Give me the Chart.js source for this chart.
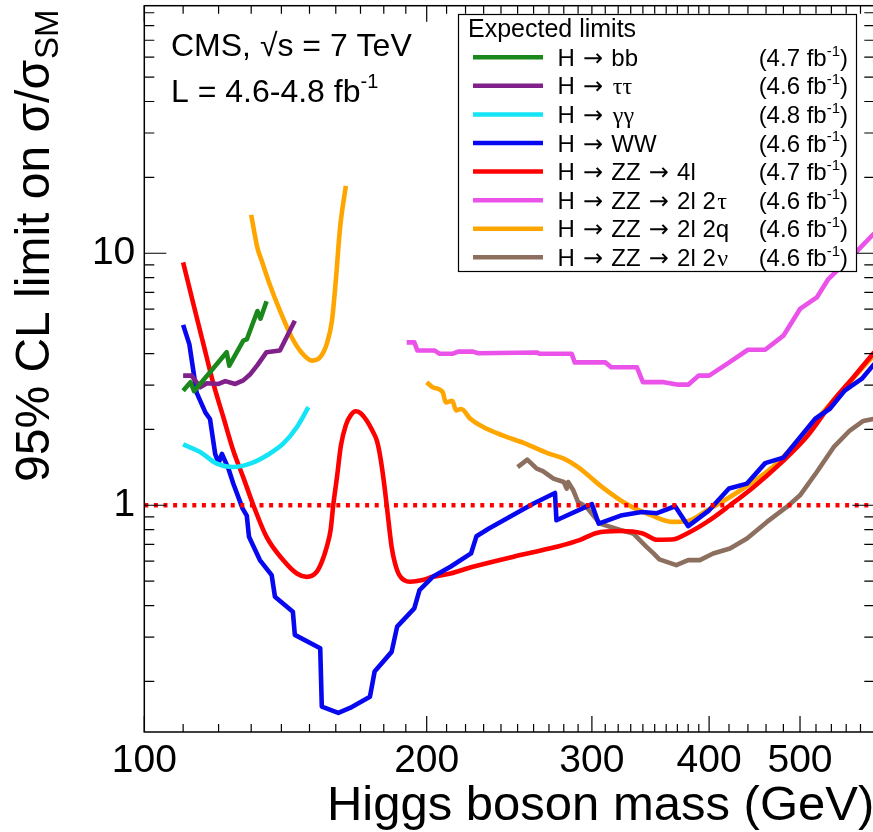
<!DOCTYPE html>
<html><head><meta charset="utf-8">
<script src="https://cdn.jsdelivr.net/npm/chart.js@4.4.1/dist/chart.umd.min.js"></script>
<style>
html,body{margin:0;padding:0;overflow:hidden;background:#fff;width:873px;height:832px}
#wrap{position:absolute;left:0;top:0;width:880px;height:832px}
canvas{display:block}
</style>
</head><body><div id="wrap"><canvas id="c" width="880" height="832" style="width:880px;height:832px"></canvas></div>
<script>
// ---------------- data ----------------
const bbMass   = [110, 112, 113, 117.5, 122.4, 123.2, 127.5, 128.6, 132, 133, 135];
const bbLimit  = [2.85, 3.08, 2.84, 3.37, 4.05, 3.58, 4.5, 4.55, 5.9, 5.5, 6.45];

const ttMass   = [110, 112.3, 114.7, 116.6, 120, 122, 125, 127.5, 129.6, 132, 135, 139.5, 144.7];
const ttLimit  = [3.27, 3.27, 2.94, 3.05, 3.03, 3.11, 3.03, 3.13, 3.30, 3.6, 4.05, 4.11, 5.40];

const ggMass   = [110, 114.7, 119.5, 124.4, 129.6, 136, 140.6, 145.4, 149.6];
const ggLimit  = [1.744, 1.626, 1.462, 1.418, 1.462, 1.602, 1.755, 2.04, 2.45];

const wwMass   = [110, 111.7, 113.7, 116.2, 117.5, 119, 120, 121, 123, 124.4, 127.3, 128.6, 129.3, 132.8, 136.7, 137.8, 144, 144.7, 154, 154.6, 161, 165.7, 174, 176, 183.5, 186, 194, 196.5, 203, 212, 223, 226, 233, 260, 274, 275, 300, 305, 322, 339, 352, 368, 380, 400, 420, 439, 459, 480, 519, 538, 558, 582, 600];
const wwLimit  = [5.2, 4.35, 2.8, 2.33, 2.2, 1.6, 1.47, 1.6, 1.39, 1.22, 0.97, 0.91, 0.75, 0.606, 0.528, 0.434, 0.378, 0.306, 0.271, 0.159, 0.150, 0.157, 0.174, 0.219, 0.262, 0.330, 0.390, 0.461, 0.520, 0.570, 0.644, 0.754, 0.809, 1.016, 1.119, 0.872, 1.01, 0.846, 0.91, 0.941, 0.93, 0.991, 0.826, 0.955, 1.165, 1.219, 1.47, 1.545, 2.205, 2.415, 2.85, 3.18, 3.64];

const zz4lMass  = [110, 112.8, 115.6, 118.5, 121.4, 124.4, 127.5, 130.7, 135, 140.6, 145.4, 149, 152.7, 154.6, 156.5, 158, 159, 160.5, 162, 164, 166, 168, 170, 172.6, 175, 177, 178.5, 180, 181.3, 183.5, 185, 187, 192, 198, 203, 212, 224, 247, 275, 291, 303.5, 321, 340, 352, 365, 379, 398, 421, 446, 476, 508, 543, 570, 600];
const zz4lLimit = [9.2, 6.29, 4.37, 3.03, 2.24, 1.65, 1.29, 1.0, 0.749, 0.606, 0.536, 0.520, 0.545, 0.596, 0.684, 0.8, 1.0, 1.3, 1.72, 2.08, 2.28, 2.36, 2.32, 2.17, 1.98, 1.8, 1.55, 1.25, 1.0, 0.684, 0.59, 0.528, 0.497, 0.505, 0.520, 0.536, 0.570, 0.624, 0.684, 0.727, 0.777, 0.79, 0.773, 0.73, 0.731, 0.773, 0.859, 1.0, 1.18, 1.46, 1.865, 2.61, 3.22, 4.05];

const zz2l2tMass  = [190.4, 194, 195.5, 204, 206.5, 213, 216, 224, 227, 262, 264, 285.5, 287.6, 310, 314.6, 335, 340, 358, 371, 380, 390, 400, 418, 440, 459, 480, 500, 521, 536, 575, 600];
const zz2l2tLimit = [4.43, 4.43, 4.11, 4.11, 3.99, 3.99, 4.07, 4.07, 4.01, 4.04, 3.99, 3.99, 3.69, 3.69, 3.53, 3.53, 3.08, 3.08, 3.01, 3.01, 3.27, 3.27, 3.64, 4.14, 4.14, 4.71, 6.01, 6.68, 7.9, 10.2, 12];

const zz2l2qMassLow  = [130, 132, 133.4, 136, 139.5, 143.6, 147, 151, 154, 156.5, 158.5, 160, 161.7, 164];
const zz2l2qLimitLow = [14.2, 10.5, 9.34, 7.55, 5.92, 4.64, 4.05, 3.75, 3.87, 4.37, 5.40, 7.78, 12.66, 18.5];
const zz2l2qMassHigh  = [200, 203, 208, 209.6, 213, 214.9, 217.7, 222.6, 230, 241, 254, 269, 280, 290, 306, 326, 349, 366, 379, 398, 421, 453, 476, 508, 543, 570, 600];
const zz2l2qLimitHigh = [3.08, 2.94, 2.81, 2.56, 2.60, 2.38, 2.41, 2.205, 2.04, 1.893, 1.765, 1.61, 1.531, 1.418, 1.2, 1.016, 0.905, 0.859, 0.864, 0.955, 1.079, 1.294, 1.508, 1.98, 2.61, 3.2, 3.95];

const zz2l2nMass  = [250, 256, 262, 266, 273, 280, 282, 283, 286.6, 290, 296, 306, 321, 332, 343, 349, 354, 369, 380, 391, 404, 421, 439, 461, 484, 500, 521, 543, 565, 584, 600];
const zz2l2nLimit = [1.418, 1.517, 1.397, 1.367, 1.276, 1.237, 1.164, 1.237, 1.147, 1.03, 0.985, 0.846, 0.80, 0.773, 0.684, 0.644, 0.61, 0.579, 0.606, 0.606, 0.644, 0.674, 0.738, 0.859, 0.985, 1.095, 1.355, 1.70, 1.98, 2.16, 2.205];

const smMass  = [100, 600];
const smLimit = [1, 1];

const seriesLabels = ['H \u2192 bb', 'H \u2192 \u03c4\u03c4', 'H \u2192 \u03b3\u03b3', 'H \u2192 WW', 'H \u2192 ZZ \u2192 4l', 'H \u2192 ZZ \u2192 2l 2\u03c4', 'H \u2192 ZZ \u2192 2l 2q', 'H \u2192 ZZ \u2192 2l 2\u03bd'];
const seriesLumi   = ['4.7', '4.6', '4.8', '4.6', '4.7', '4.6', '4.6', '4.6'];
const seriesColors = ['#1b881b', '#80208a', '#14e4f5', '#0808f0', '#ff0000', '#ea52ea', '#ffa500', '#8c6f5f'];

const xLabelTicks = [100, 200, 300, 400, 500];
const xMinorTicks = [110,120,130,140,150,160,170,180,190,210,220,230,240,250,260,270,280,290,310,320,330,340,350,360,370,380,390,420,440,460,480,520,540,560,580];
const yLabelTicks = [1, 10];
const yMinorTicks = [0.2,0.3,0.4,0.5,0.6,0.7,0.8,0.9,2,3,4,5,6,7,8,9,20,30,40,50,60,70,80,90];

const xTitle = 'Higgs boson mass (GeV)';
const yTitleMain = '95% CL limit on \u03c3/\u03c3';
const yTitleSub = 'SM';
const legendHeader = 'Expected limits';

// ---------------- build ----------------
const pts = (xs, ys) => xs.map((x, i) => ({x, y: ys[i]}));
const seriesData = [
  pts(bbMass, bbLimit),
  pts(ttMass, ttLimit),
  pts(ggMass, ggLimit),
  pts(wwMass, wwLimit),
  pts(zz4lMass, zz4lLimit),
  pts(zz2l2tMass, zz2l2tLimit),
  pts(zz2l2qMassLow, zz2l2qLimitLow).concat([{x: 180, y: null}], pts(zz2l2qMassHigh, zz2l2qLimitHigh)),
  pts(zz2l2nMass, zz2l2nLimit)
];
const smooth = [false, false, true, false, true, false, true, false];
const FONT = '"Liberation Sans", Arial, Helvetica, sans-serif';

const datasets = seriesData.map((d, i) => ({
  label: seriesLabels[i],
  data: d,
  borderColor: seriesColors[i],
  backgroundColor: seriesColors[i],
  borderWidth: 4.6,
  pointRadius: 0,
  fill: false,
  spanGaps: false,
  tension: 0,
  cubicInterpolationMode: smooth[i] ? 'monotone' : 'default',
  borderJoinStyle: 'round',
  order: i + 1
}));
datasets.push({
  label: 'SM',
  data: pts(smMass, smLimit),
  borderColor: '#ff0000',
  borderWidth: 4.5,
  borderDash: [4, 5.6],
  borderCapStyle: 'butt',
  pointRadius: 0,
  fill: false,
  order: 0
});

// font per character: long arrow from DejaVu, Greek from a serif face (legend only)
function fontFor(ch, size, serifGreek) {
  if (ch === '\u2192') return size + 'px "DejaVu Sans"';
  if (serifGreek && /[\u0370-\u03ff]/.test(ch)) return size + 'px "Liberation Serif"';
  return size + 'px ' + FONT;
}
function richText(ctx, str, x, y, size, serifGreek, gap) {
  let cx = x;
  let run = '', runFont = null;
  const flush = () => {
    if (!run) return;
    ctx.font = runFont;
    ctx.fillText(run, cx, y);
    cx += ctx.measureText(run).width + (gap || 0);
    run = '';
  };
  for (const ch of str) {
    const f = fontFor(ch, size, serifGreek);
    if (f !== runFont || ch === '\u2192') { flush(); runFont = f; }
    run += ch;
  }
  flush();
  return cx - x;
}

function drawSup(ctx, parts, x, y, size, align) {
  const [a, s, t] = parts;
  ctx.font = size + 'px ' + FONT;
  const wa = ctx.measureText(a).width;
  const wt = ctx.measureText(t).width;
  const ss = Math.round(size * 0.62);
  ctx.font = ss + 'px ' + FONT;
  const ws = ctx.measureText(s).width;
  const x0 = align === 'right' ? x - (wa + ws + wt) : x;
  ctx.textAlign = 'left';
  ctx.font = size + 'px ' + FONT;
  ctx.fillText(a, x0, y);
  ctx.font = ss + 'px ' + FONT;
  ctx.fillText(s, x0 + wa, y - size * 0.42);
  ctx.font = size + 'px ' + FONT;
  ctx.fillText(t, x0 + wa + ws, y);
}

const overlay = {
  id: 'overlay',
  afterDatasetsDraw(chart) {
    const {ctx, chartArea: a, scales: {x, y}} = chart;
    ctx.save();
    // frame
    ctx.strokeStyle = '#000';
    ctx.lineWidth = 1.5;
    ctx.strokeRect(a.left, a.top, a.right - a.left, a.bottom - a.top);
    // ticks (inward, all four sides)
    ctx.lineWidth = 1.2;
    ctx.beginPath();
    const xt = (v, len) => {
      const px = x.getPixelForValue(v);
      ctx.moveTo(px, a.bottom); ctx.lineTo(px, a.bottom - len);
      ctx.moveTo(px, a.top); ctx.lineTo(px, a.top + len);
    };
    const yt = (v, len) => {
      const py = y.getPixelForValue(v);
      ctx.moveTo(a.left, py); ctx.lineTo(a.left + len, py);
      ctx.moveTo(a.right, py); ctx.lineTo(a.right - len, py);
    };
    xMinorTicks.forEach(v => xt(v, 8));
    xLabelTicks.forEach(v => xt(v, 16));
    yMinorTicks.forEach(v => yt(v, 10));
    yLabelTicks.forEach(v => yt(v, 22));
    ctx.stroke();

    // legend box
    const L = {x0: 458.5, y0: 14.5, x1: 856.5, y1: 271.5};
    ctx.fillStyle = '#fff';
    ctx.fillRect(L.x0, L.y0, L.x1 - L.x0, L.y1 - L.y0);
    ctx.lineWidth = 1.2;
    ctx.strokeStyle = '#000';
    ctx.strokeRect(L.x0, L.y0, L.x1 - L.x0, L.y1 - L.y0);
    ctx.fillStyle = '#000';
    ctx.textBaseline = 'alphabetic';
    ctx.textAlign = 'left';
    ctx.font = '25px ' + FONT;
    ctx.fillText(legendHeader, 468, 37);
    for (let i = 0; i < seriesLabels.length; i++) {
      const cy = 57.3 + i * 28.57;
      ctx.strokeStyle = seriesColors[i];
      ctx.lineWidth = 4.5;
      ctx.beginPath();
      ctx.moveTo(473, cy); ctx.lineTo(543, cy);
      ctx.stroke();
      ctx.fillStyle = '#000';
      ctx.textAlign = 'left';
      richText(ctx, seriesLabels[i], 557.5, cy + 8.5, 24, true, 1.5);
      drawSup(ctx, ['(' + seriesLumi[i] + ' fb', '-1', ')'], 848, cy + 8.5, 24, 'right');
    }

    // CMS labels
    ctx.fillStyle = '#000';
    ctx.textAlign = 'left';
    ctx.font = '32px ' + FONT;
    ctx.fillText('CMS, \u221As = 7 TeV', 171, 56);
    drawSup(ctx, ['L = 4.6-4.8 fb', '-1', ''], 171, 101.5, 32, 'left');

    // y title with subscript
    ctx.save();
    ctx.translate(49, 482);
    ctx.rotate(-Math.PI / 2);
    ctx.textAlign = 'left';
    ctx.textBaseline = 'alphabetic';
    const w = richText(ctx, yTitleMain, 0, 0, 48, false, 0);
    ctx.font = '33px ' + FONT;
    ctx.fillText(yTitleSub, w + 1, 9);
    ctx.restore();

    ctx.restore();
  }
};

new Chart(document.getElementById('c'), {
  type: 'line',
  data: {datasets},
  options: {
    responsive: false,
    animation: false,
    devicePixelRatio: 1,
    layout: {padding: {top: 5.7, right: 5.7, left: 0, bottom: 0}},
    plugins: {legend: {display: false}, tooltip: {enabled: false}, title: {display: false}},
    scales: {
      x: {
        type: 'logarithmic', position: 'bottom', min: 100, max: 600,
        grid: {display: false, drawTicks: false}, border: {display: false},
        afterFit(s) { s.height = 100; s.paddingLeft = 0; s.paddingRight = 0; },
        afterBuildTicks(s) { s.ticks = xLabelTicks.map(v => ({value: v})); },
        ticks: {autoSkip: false, maxRotation: 0, minRotation: 0, padding: 6, color: '#000',
          font: {family: FONT, size: 39}, callback: (v) => String(v)},
        title: {display: true, text: xTitle, align: 'end', color: '#000',
          font: {family: FONT, size: 49, lineHeight: 1.0}, padding: {top: 0, bottom: 1.5}}
      },
      y: {
        type: 'logarithmic', position: 'left', min: 0.126, max: 96,
        grid: {display: false, drawTicks: false}, border: {display: false},
        afterFit(s) { s.width = 144.3; s.paddingTop = 0; s.paddingBottom = 0; },
        afterBuildTicks(s) { s.ticks = yLabelTicks.map(v => ({value: v})); },
        ticks: {autoSkip: false, padding: 9, color: '#000',
          font: {family: FONT, size: 39}, callback: (v) => String(v)}
      }
    }
  },
  plugins: [overlay]
});
</script>
</body></html>
